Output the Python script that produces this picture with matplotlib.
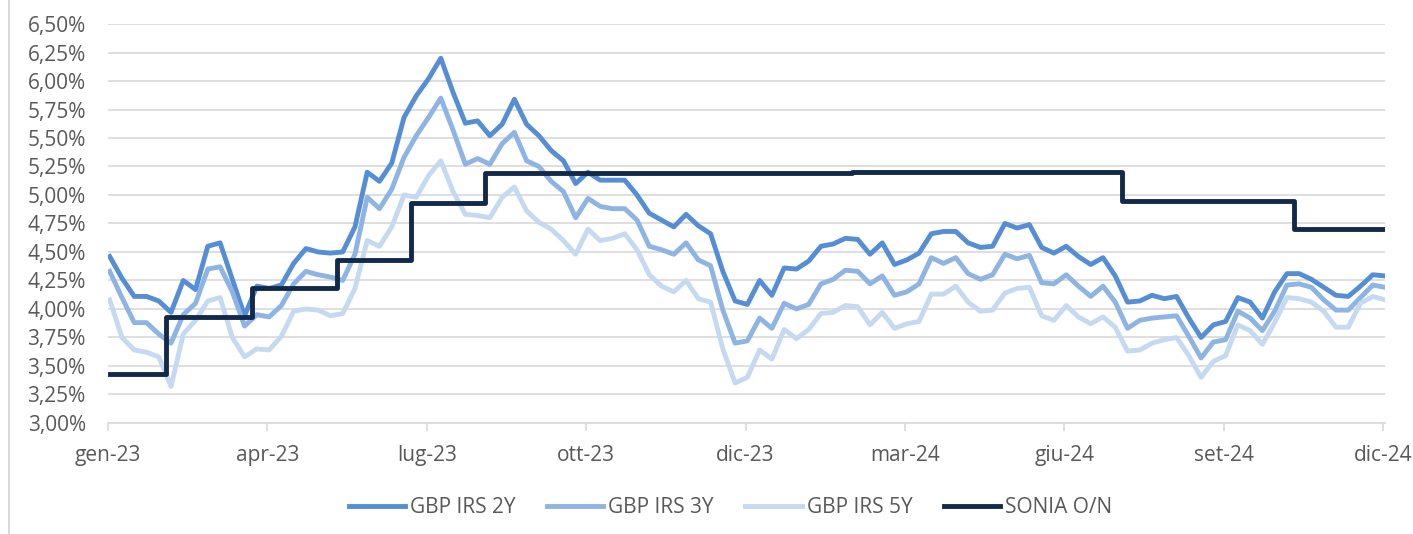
import matplotlib.pyplot as plt
import pandas as pd
from matplotlib.lines import Line2D
from matplotlib.ticker import FuncFormatter, MultipleLocator

plt.rcParams["font.family"] = ["Open Sans", "DejaVu Sans"]

# weekly observations, 2 Jan 2023 -> 30 Dec 2024
dates = pd.date_range("2023-01-02", periods=105, freq="7D")

irs_2y = [
    4.46, 4.27, 4.11, 4.11, 4.07, 3.97, 4.25, 4.17, 4.55, 4.58,
    4.26, 3.94, 4.20, 4.18, 4.21, 4.40, 4.53, 4.50, 4.49, 4.50,
    4.72, 5.20, 5.12, 5.28, 5.68, 5.87, 6.02, 6.20, 5.90, 5.63,
    5.65, 5.52, 5.62, 5.84, 5.62, 5.52, 5.39, 5.30, 5.10, 5.20,
    5.13, 5.13, 5.13, 5.00, 4.84, 4.78, 4.72, 4.83, 4.73, 4.66,
    4.33, 4.07, 4.04, 4.25, 4.12, 4.36, 4.35, 4.42, 4.55, 4.57,
    4.62, 4.61, 4.48, 4.58, 4.39, 4.43, 4.49, 4.66, 4.68, 4.68,
    4.58, 4.54, 4.55, 4.75, 4.71, 4.74, 4.54, 4.49, 4.55, 4.46,
    4.39, 4.45, 4.29, 4.06, 4.07, 4.12, 4.09, 4.11, 3.92, 3.75,
    3.86, 3.89, 4.10, 4.06, 3.92, 4.15, 4.31, 4.31, 4.26, 4.19,
    4.12, 4.11, 4.20, 4.30, 4.29,
]
irs_3y = [
    4.33, 4.10, 3.88, 3.88, 3.78, 3.70, 3.95, 4.05, 4.35, 4.37,
    4.15, 3.85, 3.95, 3.93, 4.03, 4.22, 4.33, 4.30, 4.28, 4.25,
    4.48, 4.98, 4.88, 5.05, 5.33, 5.52, 5.68, 5.85, 5.57, 5.27,
    5.32, 5.27, 5.45, 5.55, 5.30, 5.25, 5.12, 5.03, 4.80, 4.97,
    4.90, 4.88, 4.88, 4.78, 4.55, 4.52, 4.48, 4.58, 4.43, 4.38,
    3.99, 3.70, 3.72, 3.92, 3.83, 4.05, 4.00, 4.04, 4.22, 4.26,
    4.34, 4.33, 4.22, 4.29, 4.12, 4.15, 4.22, 4.45, 4.40, 4.45,
    4.31, 4.26, 4.30, 4.48, 4.44, 4.47, 4.23, 4.22, 4.30, 4.20,
    4.11, 4.20, 4.06, 3.83, 3.90, 3.92, 3.93, 3.94, 3.76, 3.57,
    3.71, 3.73, 3.98, 3.92, 3.81, 3.98, 4.21, 4.22, 4.19, 4.08,
    3.99, 3.99, 4.10, 4.21, 4.19,
]
irs_5y = [
    4.08, 3.75, 3.64, 3.62, 3.58, 3.32, 3.78, 3.90, 4.07, 4.10,
    3.75, 3.58, 3.65, 3.64, 3.76, 3.98, 4.00, 3.99, 3.94, 3.96,
    4.18, 4.60, 4.55, 4.72, 5.00, 4.98, 5.17, 5.30, 5.03, 4.83,
    4.82, 4.80, 4.98, 5.07, 4.86, 4.76, 4.70, 4.60, 4.48, 4.70,
    4.60, 4.62, 4.66, 4.52, 4.30, 4.20, 4.15, 4.25, 4.09, 4.06,
    3.65, 3.35, 3.40, 3.64, 3.56, 3.82, 3.74, 3.82, 3.96, 3.97,
    4.03, 4.02, 3.86, 3.97, 3.83, 3.87, 3.89, 4.13, 4.13, 4.20,
    4.06, 3.98, 3.99, 4.14, 4.18, 4.19, 3.94, 3.90, 4.03, 3.93,
    3.87, 3.93, 3.84, 3.63, 3.64, 3.70, 3.73, 3.75, 3.59, 3.40,
    3.54, 3.59, 3.86, 3.81, 3.69, 3.88, 4.10, 4.09, 4.06, 3.98,
    3.84, 3.84, 4.05, 4.11, 4.08,
]

# SONIA overnight: dates where the level changes
sonia_dates = pd.to_datetime([
    "2023-01-02", "2023-02-03", "2023-03-24", "2023-05-12", "2023-06-23",
    "2023-08-04", "2024-03-01", "2024-08-02", "2024-11-08", "2024-12-30",
])
sonia = [3.43, 3.93, 4.18, 4.43, 4.93, 5.19, 5.20, 4.95, 4.70, 4.70]

tick_dates = pd.date_range("2023-01-01", periods=9, freq="91D")
tick_labels = ["gen-23", "apr-23", "lug-23", "ott-23", "dic-23",
               "mar-24", "giu-24", "set-24", "dic-24"]

grey_txt = "#595959"
grey_line = "#D9D9D9"

fig = plt.figure(figsize=(14.13, 5.34), dpi=100)
ax = fig.add_axes([0.0764, 0.208, 0.9038, 0.747])

lw = 3.5
ax.plot(dates, irs_2y, color="#558ED5", lw=lw, label="GBP IRS 2Y")
ax.plot(dates, irs_3y, color="#8DB4E2", lw=lw, label="GBP IRS 3Y")
ax.plot(dates, irs_5y, color="#C5D9F1", lw=lw, label="GBP IRS 5Y")
ax.plot(sonia_dates, sonia, color="#13294B", lw=lw, drawstyle="steps-post",
        label="SONIA O/N")

ax.set_xlim(pd.Timestamp("2023-01-01"), pd.Timestamp("2024-12-30"))
ax.set_ylim(3.0, 6.5)
ax.yaxis.set_major_locator(MultipleLocator(0.25))
ax.yaxis.set_major_formatter(FuncFormatter(lambda v, p: f"{v:.2f}%".replace(".", ",")))
ax.set_xticks(tick_dates)
ax.set_xticklabels(tick_labels)

ax.grid(axis="y", color=grey_line, lw=1.2)
ax.set_axisbelow(True)
for s in ["top", "right", "left"]:
    ax.spines[s].set_visible(False)
ax.spines["bottom"].set_color(grey_line)
ax.spines["bottom"].set_linewidth(1.2)
ax.tick_params(axis="y", length=0, pad=16, labelsize=15, labelcolor=grey_txt)
ax.tick_params(axis="x", length=6, width=1.2, color=grey_line, pad=10,
               labelsize=15, labelcolor=grey_txt)

fig.legend(loc="center", bbox_to_anchor=(0.517, 0.049), ncol=4, frameon=False,
           fontsize=15, labelcolor=grey_txt, handlelength=2.7,
           handletextpad=0.25, columnspacing=1.5)

# outer chart border on the left
fig.add_artist(Line2D([0.0067, 0.0067], [0, 1], transform=fig.transFigure,
                      color=grey_line, lw=1.5))

fig.savefig("out.png", dpi=100)
